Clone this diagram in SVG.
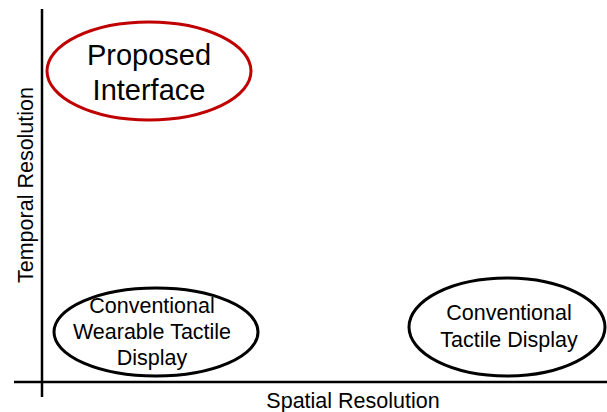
<svg xmlns="http://www.w3.org/2000/svg" width="607" height="412" viewBox="0 0 607 412">
<style>
text{font-family:"Liberation Sans",Arial,sans-serif;fill:#000;text-anchor:middle}
.ax{stroke:#000;stroke-width:2.5;fill:none}
.el{fill:#fff;stroke:#000;stroke-width:3}
.red{fill:#fff;stroke:#C00000;stroke-width:3}
.big{font-size:29px}
.mid{font-size:21.5px}
.lab{font-size:21.5px}
</style>
<rect width="607" height="412" fill="#fff"/>
<g id="axes">
<line class="ax" x1="42" y1="9" x2="42" y2="397"/>
<line class="ax" x1="14" y1="382" x2="607" y2="382"/>
<text class="lab" x="353" y="408">Spatial Resolution</text>
<text class="lab" transform="translate(33,185) rotate(-90)">Temporal Resolution</text>
</g>
<g id="proposed">
<ellipse class="red" cx="149" cy="71" rx="102" ry="49"/>
<text class="big" x="149" y="65">Proposed</text>
<text class="big" x="149" y="100">Interface</text>
</g>
<g id="wearable">
<ellipse class="el" cx="156" cy="332" rx="102" ry="44"/>
<text class="mid" x="152" y="313">Conventional</text>
<text class="mid" x="152" y="339">Wearable Tactile</text>
<text class="mid" x="152" y="365">Display</text>
</g>
<g id="tactile">
<ellipse class="el" cx="507" cy="327" rx="98" ry="49"/>
<text class="mid" x="509" y="320">Conventional</text>
<text class="mid" x="509" y="347">Tactile Display</text>
</g>
<g id="connectors"/>
</svg>
